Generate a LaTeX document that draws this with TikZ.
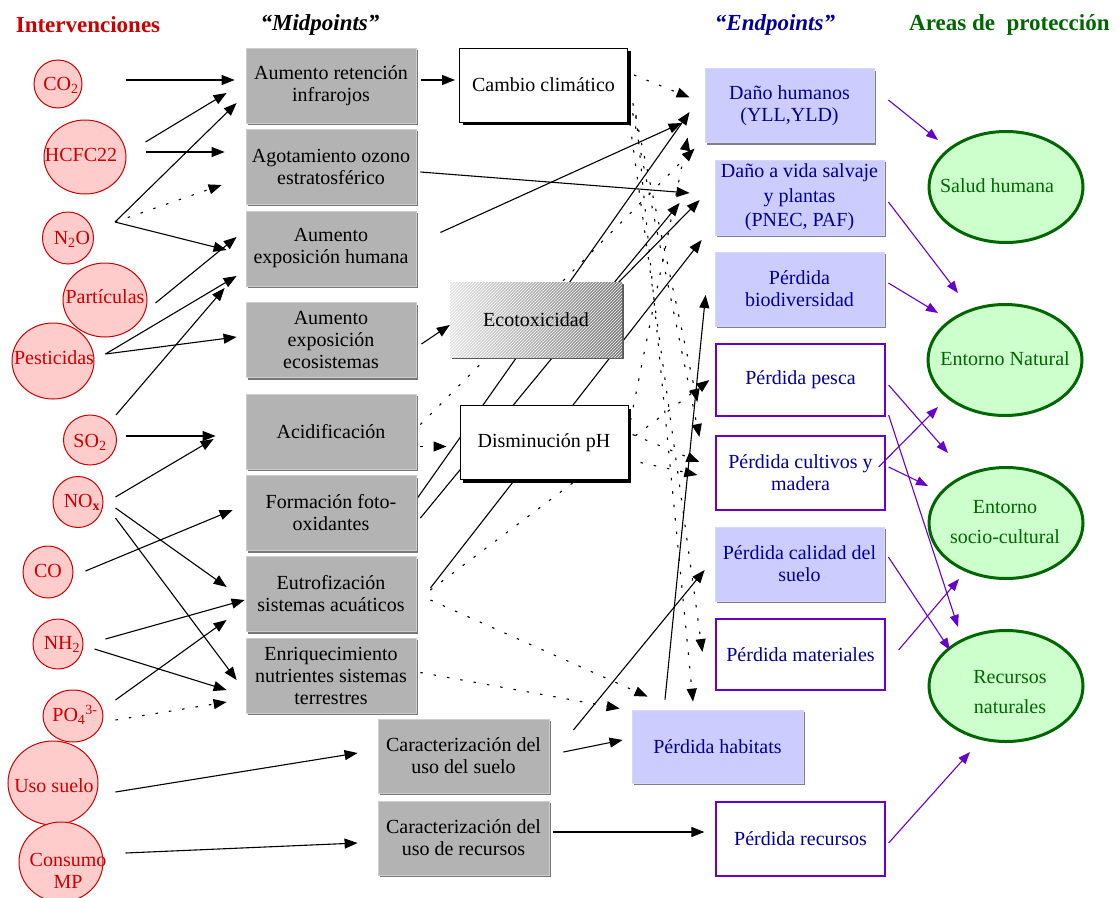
\documentclass[tikz,border=0pt]{standalone}
\usepackage{fontspec}
\setmainfont{Liberation Serif}
\usetikzlibrary{arrows.meta,calc,shapes.geometric,shadows,patterns}
\pgfdeclarelayer{bg}
\pgfsetlayers{bg,main}
\definecolor{redc}{RGB}{204,0,0}
\definecolor{pinkf}{RGB}{255,204,204}
\definecolor{midg}{RGB}{179,179,179}
\definecolor{midgl}{RGB}{205,205,205}
\definecolor{midgd}{RGB}{120,120,120}
\definecolor{lav}{RGB}{204,204,255}
\definecolor{lavl}{RGB}{215,215,245}
\definecolor{lavd}{RGB}{125,125,145}
\definecolor{navyt}{RGB}{0,0,153}
\definecolor{purp}{RGB}{102,0,204}
\definecolor{greenf}{RGB}{204,255,204}
\definecolor{greend}{RGB}{0,102,0}
\definecolor{ecol}{RGB}{228,228,228}
\definecolor{ecor}{RGB}{118,118,118}
\newcommand{\fsz}{\fontsize{20}{22}\selectfont}
\newcommand{\hdb}{\fontsize{23}{26}\selectfont\bfseries}
\newcommand{\hdbi}{\fontsize{23}{26}\selectfont\bfseries\itshape}
\tikzset{
  circ/.style={ellipse, draw=redc, fill=pinkf, line width=1pt, inner sep=0pt},
  ctxt/.style={text=redc, font=\fsz, inner sep=0pt, align=center},
  midbox/.style={rectangle, fill=midg, draw=midgl, line width=0.8pt, font=\fsz, align=center,
    inner sep=0pt, minimum width=170pt, minimum height=75pt,
    drop shadow={shadow xshift=2pt, shadow yshift=-2pt, fill=midgd, opacity=1}},
  whbox/.style={rectangle, fill=white, draw=black, line width=1pt, font=\fsz, align=center,
    inner sep=0pt, minimum width=168pt, minimum height=74pt,
    drop shadow={shadow xshift=3pt, shadow yshift=-3pt, fill=black, opacity=1}},
  ecobox/.style={rectangle, left color=ecol, right color=ecor, font=\fsz, align=center,
    inner sep=0pt, minimum width=172pt, minimum height=75pt,
    drop shadow={shadow xshift=2pt, shadow yshift=-1.5pt, fill=gray!70!black, opacity=1},
    postaction={pattern=north east lines, pattern color=white, fill opacity=0.5}},
  lavbox/.style={rectangle, fill=lav, draw=lavl, line width=0.8pt, font=\fsz, text=navyt, align=center,
    inner sep=0pt, minimum width=169pt, minimum height=74pt,
    drop shadow={shadow xshift=2pt, shadow yshift=-2pt, fill=lavd, opacity=1}},
  wpbox/.style={rectangle, fill=white, draw=purp, line width=1.2pt, font=\fsz, text=navyt, align=center,
    inner sep=0pt, minimum width=169pt, minimum height=72pt},
  area/.style={ellipse, fill=greenf, draw=greend, line width=3pt, inner sep=0pt,
    minimum width=154pt, minimum height=111pt},
  atxt/.style={text=greend, font=\fontsize{20}{30}\selectfont, align=center, inner sep=0pt},
  arr/.style={line width=1.1pt, -{Triangle[length=13pt,width=10pt]}},
  darr/.style={arr, dash pattern=on 2.5pt off 11pt},
  parr/.style={draw=purp, line width=1.1pt, -{Triangle[length=12pt,width=9pt]}, color=purp},
}
\begin{document}
\begin{tikzpicture}[x=1pt,y=-1pt]
\useasboundingbox (0,0) rectangle (1119,897);

% headers
\node[font=\hdb, text=redc] (h1) at (88,25) {Intervenciones};
\node[font=\hdbi] (h2) at (320,25) {“Midpoints”};
\node[font=\hdbi, text=navyt] (h3) at (775,25) {“Endpoints”};
\node[font=\hdb, text=greend, anchor=west, inner sep=0pt] (h4) at (909,25) {Areas de~~protección};

% interventions
\node[circ, minimum width=48pt, minimum height=48pt] (co2) at (58,84) {};
\node[circ, minimum width=82pt, minimum height=74pt] (hc) at (85,157) {};
\node[circ, minimum width=51pt, minimum height=52pt] (n2o) at (68,238) {};
\node[circ, minimum width=84pt, minimum height=74pt] (par) at (105,300) {};
\node[circ, minimum width=82pt, minimum height=76pt] (pes) at (53,361) {};
\node[circ, minimum width=53pt, minimum height=50pt] (so2) at (90,440) {};
\node[circ, minimum width=50pt, minimum height=51pt] (nox) at (78,502) {};
\node[circ, minimum width=50pt, minimum height=52pt] (co) at (48,572) {};
\node[circ, minimum width=50pt, minimum height=50pt] (nh2) at (58,644) {};
\node[circ, minimum width=60pt, minimum height=52pt] (po4) at (73,716) {};
\node[circ, minimum width=90pt, minimum height=84pt] (uso) at (53,783) {};
\node[circ, minimum width=84pt, minimum height=80pt] (cmp) at (61,862) {};
\node[ctxt] (co2t) at (61,85) {CO\textsubscript{2}};
\node[ctxt] (hct) at (81,155) {HCFC22};
\node[ctxt] (n2ot) at (72,239) {N\textsubscript{2}O};
\node[ctxt] (part) at (105,297) {Partículas};
\node[ctxt] (pest) at (54,358) {Pesticidas};
\node[ctxt] (so2t) at (90,442) {SO\textsubscript{2}};
\node[ctxt] (noxt) at (82,502) {NO\textsubscript{\textbf{x}}};
\node[ctxt] (cot) at (48,571) {CO};
\node[ctxt] (nh2t) at (62,644) {NH\textsubscript{2}};
\node[ctxt] (po4t) at (75,715) {PO\textsubscript{4}\textsuperscript{3-}};
\node[ctxt] (usot) at (54,786) {Uso suelo};
\node[ctxt] (cmpt) at (68,871) {Consumo\\MP};

% midpoints
\node[midbox] (ret) at (331,85.5) {Aumento retención\\infrarojos};
\node[midbox] (ozo) at (331,166.5) {Agotamiento ozono\\estratosférico};
\node[midbox] (exh) at (331,248.5) {Aumento\\exposición humana};
\node[midbox] (exe) at (331,340) {Aumento\\exposición\\ecosistemas};
\node[midbox] (aci) at (331,431.5) {Acidificación};
\node[midbox] (fot) at (331,513) {Formación foto-\\oxidantes};
\node[midbox] (eut) at (331,594) {Eutrofización\\sistemas acuáticos};
\node[midbox] (enr) at (331,675.5) {Enriquecimiento\\nutrientes sistemas\\terrestres};
\node[midbox, minimum width=171pt, minimum height=74pt] (cus) at (463.5,756) {Caracterización del\\uso del suelo};
\node[midbox, minimum width=171pt, minimum height=74pt] (cur) at (463.5,838) {Caracterización del\\uso de recursos};

\node[whbox] (cc) at (543.5,85) {Cambio climático};
\node[ecobox] (eco) at (536,319.5) {Ecotoxicidad};
\node[whbox] (dph) at (544,442.5) {Disminución pH};

% endpoints
\node[lavbox] (dh) at (789.5,105.5) {Daño humanos\\(YLL,YLD)};
\node[lavbox, font=\fontsize{20}{24.5}\selectfont, minimum height=75pt] (dv) at (799.5,197.5) {Daño a vida salvaje\\y plantas\\(PNEC, PAF)};
\node[lavbox] (pb) at (799.5,289) {Pérdida\\biodiversidad};
\node[wpbox] (pp) at (800.5,380) {Pérdida pesca};
\node[wpbox, minimum height=74pt] (pc) at (800.5,473) {Pérdida cultivos y\\madera};
\node[lavbox] (pcs) at (799.5,564) {Pérdida calidad del\\suelo};
\node[wpbox, minimum height=71pt] (pm) at (800.5,654.5) {Pérdida materiales};
\node[lavbox, minimum width=171pt, minimum height=73pt] (ph) at (717.5,746.5) {Pérdida habitats};
\node[wpbox, minimum height=74pt] (pr) at (800.5,839) {Pérdida recursos};

% areas
\node[area] (sh) at (1006,187) {};
\node[area] (en) at (1005,360) {};
\node[area] (sc) at (1006,523) {};
\node[area] (rn) at (1006,686) {};
\node[atxt] (sht) at (997,186) {Salud humana};
\node[atxt] (ent) at (1005,359) {Entorno Natural};
\node[atxt] (sct) at (1005,522) {Entorno\\socio-cultural};
\node[atxt] (rnt) at (1010,692) {Recursos\\naturales};

\begin{pgfonlayer}{bg}
% interventions -> midpoints
\draw[arr] ($(co2.east)+(43,-4)$) -- ($(ret.west)+(-11,-5.5)$);
\draw[arr] ($(hc.east)+(19,-15)$) -- ($(ret.west)+(-19,7.5)$);
\draw[arr] ($(hc.east)+(19,-5)$) -- ($(ozo.west)+(-21,-14.5)$);
\coordinate (n2oo) at ($(n2o.east)+(21,-16)$);
\draw[arr] (n2oo) -- ($(ret.west)+(-9,17.5)$);
\draw[darr] (n2oo) -- ($(ozo.west)+(-24,18.5)$);
\draw[arr] (n2oo) -- ($(exh.west)+(-19,1.5)$);
\draw[arr] ($(par.east)+(8,3)$) -- ($(exh.west)+(-9,-11.5)$);
\coordinate (peso) at ($(pes.east)+(11,-7)$);
\draw[arr] (peso) -- ($(exh.west)+(-9,27.5)$);
\draw[arr] (peso) -- ($(exe.west)+(-9,-3)$);
\draw[arr] ($(so2.east)+(-1,-25)$) -- ($(exh.west)+(-21,39.5)$);
\draw[arr] ($(so2.east)+(9,-4)$) -- ($(aci.west)+(-30,4.5)$);
\draw[arr] ($(nox.east)+(12,-5)$) -- ($(aci.west)+(-32,7.5)$);
\draw[arr] ($(nox.east)+(12,6)$) -- ($(eut.west)+(-19,-7)$);
\draw[arr] ($(nox.east)+(12,16)$) -- ($(enr.west)+(-9,4.5)$);
\draw[arr] ($(co.east)+(12,-1)$) -- ($(fot.west)+(-13,-3)$);
\draw[arr] ($(nh2.east)+(22,-5)$) -- ($(eut.west)+(-1,6)$);
\draw[arr] ($(nh2.east)+(11,5)$) -- ($(enr.west)+(-19,14.5)$);
\draw[arr] ($(po4.east)+(12,-16)$) -- ($(eut.west)+(-19,26)$);
\draw[darr] ($(po4.east)+(12,4)$) -- ($(enr.west)+(-19,26.5)$);
\draw[arr] ($(uso.east)+(17,9)$) -- ($(cus.west)+(-20,-3)$);
\draw[arr] ($(cmp.east)+(22,-9)$) -- ($(cur.west)+(-20,5)$);
% midpoints -> midpoints
\draw[arr] ($(ret.east)+(5,-5.5)$) -- ($(cc.west)+(-4,-5)$);
\draw[arr] ($(exe.east)+(5,4)$) -- ($(eco.west)+(0,5.5)$);
% midpoints -> endpoints (solid)
\draw[arr] ($(ozo.east)+(4,5.5)$) -- ($(dv.west)+(-25,-4.5)$);
\draw[arr] ($(exh.east)+(24,-16)$) -- ($(dh.west)+(-23,17.5)$);
\draw[arr] ($(fot.east)+(-6,-5)$) -- ($(dh.west)+(-15,6.5)$);
\draw[arr] ($(fot.east)+(4,5)$) -- ($(dv.west)+(-35,5.5)$);
\draw[arr] ($(eut.east)+(14,-6)$) -- ($(dv.west)+(-13,42.5)$);
\draw[arr] ($(eco.north east)+(-4,1)$) -- ($(dv.west)+(-15,2.5)$);
\draw[arr] ($(ph.north)+(-52.5,-10)$) -- ($(pb.west)+(-9,6)$);
\draw[arr] ($(cus.east)+(24,-26)$) -- ($(pcs.west)+(-10,6)$);
\draw[arr] ($(cus.east)+(14,-4)$) -- ($(ph.west)+(-9,-6.5)$);
\draw[arr] ($(cur.east)+(4,-6)$) -- ($(pr.west)+(-11,-7)$);
% dotted connectors
\draw[darr] ($(cc.east)+(6,-10)$) -- ($(dh.west)+(-15,-8)$);
\draw[darr] ($(aci.east)+(4,-7)$) -- ($(dh.west)+(-10,43)$);
\draw[darr] ($(dph.east)+(2,-22)$) -- ($(dh.west)+(-17,32)$);
\draw[darr] ($(cc.east)+(2,5)$) -- ($(pp.west)+(-18,22)$);
\draw[darr] ($(cc.east)+(2,15)$) -- ($(pc.west)+(-16,-36)$);
\draw[darr] ($(cc.east)+(0,25)$) -- ($(pm.west)+(-13,-2.5)$);
\draw[darr] ($(cc.east)+(8,30)$) -- ($(ph.north)+(-24.5,-8)$);
\draw[darr] ($(eut.east)+(14,-4)$) -- ($(pp.west)+(-6,0)$);
\draw[darr] ($(dph.east)+(12,20)$) -- ($(pc.west)+(-18,2)$);
\draw[darr] ($(dph.east)+(4,-8)$) -- ($(pc.west)+(-16,-11)$);
\draw[darr] ($(aci.east)+(4,15)$) -- ($(dph.west)+(-13,4)$);
\draw[darr] ($(eut.east)+(14,6)$) -- ($(ph.north west)+(16,-13)$);
\draw[darr] ($(enr.east)+(4,-3)$) -- ($(ph.west)+(-12,-38)$);
\end{pgfonlayer}

% endpoints -> areas
\draw[parr] ($(dh.east)+(14,-5.5)$) -- ($(sh)+(-68,-47)$);
\draw[parr] ($(dv.east)+(4,4.5)$) -- ($(en)+(-47,-67)$);
\draw[parr] ($(pb.east)+(4,-6)$) -- ($(en)+(-67,-47)$);
\draw[parr] ($(pp.east)+(3,5)$) -- ($(sc)+(-58,-70)$);
\draw[parr] ($(pp.east)+(3,35)$) -- ($(rn)+(-48,-59)$);
\draw[parr] ($(pc.east)+(-7,-6)$) -- ($(en)+(-67,47)$);
\draw[parr] ($(pc.east)+(3,-6)$) -- ($(sc)+(-78,-37)$);
\draw[parr] ($(pcs.east)+(4,-7)$) -- ($(rn)+(-56,-36)$);
\draw[parr] ($(pm.east)+(13,-4.5)$) -- ($(sc)+(-47,56)$);
\draw[parr] ($(pr.east)+(3,4)$) -- ($(rn)+(-36,66)$);
\end{tikzpicture}
\end{document}
